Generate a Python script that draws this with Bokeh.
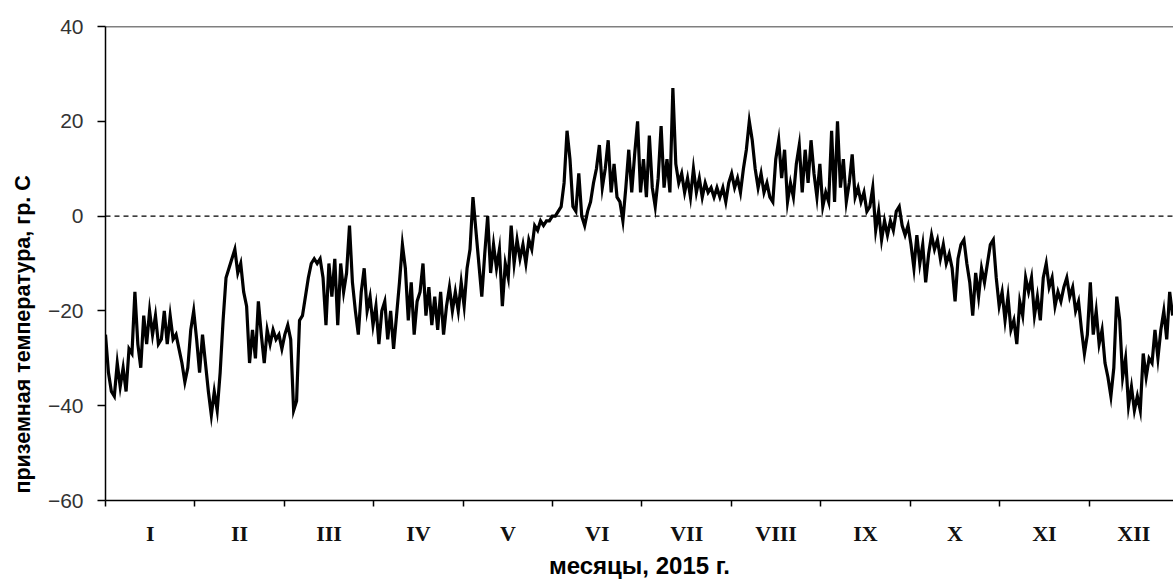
from bokeh.plotting import figure
from bokeh.models import Range1d, FixedTicker, Span, Title
from bokeh.embed import file_html
from bokeh.resources import INLINE

# Daily near-surface temperature, 2015 (day index from 1 Jan)
temps = [
    -25, -33, -37, -38, -31, -36, -32, -37, -28, -29,
    -16, -27, -32, -21, -27, -20, -25, -21, -27, -26,
    -20, -27, -21, -26, -25, -28, -31, -35, -32, -24,
    -20, -26, -33, -25, -31, -37, -42, -37, -41, -33,
    -22, -13, -11, -9, -7, -12, -10, -16, -19, -31,
    -24, -30, -18, -25, -31, -24, -27, -24, -26, -25,
    -28, -25, -23, -26, -41, -39, -22, -21, -17, -13,
    -10, -9, -10, -9, -13, -23, -10, -17, -9, -23,
    -10, -16, -12, -2, -14, -20, -25, -16, -11, -20,
    -17, -23, -19, -27, -20, -18, -26, -20, -28, -21,
    -14, -6, -11, -22, -14, -25, -18, -16, -10, -21,
    -15, -23, -17, -24, -16, -25, -19, -15, -20,
    -16, -20, -14, -19, -11, -7, 4, -3, -10, -17,
    -8, 0, -12, -6, -11, -7, -19, -10, -13, -2,
    -10, -5, -9, -6, -10, -5, -7, -2, -3, -1,
    -2, -1, -1, 0, 0, 1, 2, 7, 18, 12,
    2, 1, 9, 0, -2, 1, 3, 7, 10, 15,
    6, 10, 16, 5, 11, 4, 3, -1, 6, 14,
    5, 13, 20, 5, 12, 4, 17, 6, 2, 8,
    19, 6, 12, 5, 27, 11, 7, 9, 5, 8,
    4, 10, 5, 8, 4, 7, 5, 6, 4, 6,
    4, 6, 3, 7, 9, 6, 8, 5, 10, 14,
    20, 16, 10, 6, 9, 5, 7, 4, 3, 12,
    16, 8, 14, 3, 7, 4, 11, 15,
    5, 14, 7, 16, 9, 4, 11, 2, 5, 3,
    18, 3, 20, 6, 12, 3, 7, 13, 4, 6,
    3, 5, 1, 2, 6, -3, 1, -5, -1, -4,
    -1, -3, 1, 2, -2, -4, -2, -6, -11, -4,
    -10, -6, -14, -8, -4, -7, -5, -9, -6, -10,
    -8, -11, -18, -9, -6, -5, -10, -14, -21, -12,
    -17, -11, -14, -10,
    -6, -5, -13, -19, -16, -22, -17, -24, -22, -27,
    -18, -21, -13, -16, -13, -21, -17, -22, -13, -10,
    -15, -13, -19, -16, -18, -15, -13, -17, -15, -20,
    -18, -24, -29, -25, -14, -25, -20, -27, -24, -31,
    -34, -38, -32, -17, -22, -34, -30, -40, -36, -41,
    -38, -41, -29, -34, -30, -31, -24, -30, -24, -20,
    -26, -16, -21,
]
days = list(range(len(temps)))

month_labels = ["I", "II", "III", "IV", "V", "VI", "VII", "VIII", "IX", "X", "XI", "XII"]
y_ticks = [-60, -40, -20, 0, 20, 40]
x_title = "месяцы, 2015 г."
y_title = "приземная температура, гр. С"

month_len = 365 / 12
month_bounds = [i * month_len for i in range(13)]
month_mids = [(i + 0.5) * month_len for i in range(12)]

p = figure(width=1173, height=582, x_range=Range1d(0, 363.3), y_range=Range1d(-60, 40),
           output_backend="svg", toolbar_location=None,
           min_border_left=105, min_border_right=0, min_border_top=26, min_border_bottom=82)
p.background_fill_color = "white"
p.border_fill_color = "white"
p.outline_line_color = None
p.xgrid.visible = False
p.ygrid.visible = False

p.add_layout(Span(location=0, dimension="width", line_color="black",
                  line_width=1.3, line_dash="5 4"))
p.add_layout(Span(location=40, dimension="width", line_color="black", line_width=1.5))

p.line(days, temps, line_color="black", line_width=3.2, line_join="miter")

# y axis
ya = p.yaxis[0]
ya.ticker = FixedTicker(ticks=y_ticks)
ya.axis_line_color = "black"
ya.axis_line_width = 1.5
ya.major_tick_out = 8
ya.major_tick_in = 0
ya.major_tick_line_width = 1.5
ya.minor_tick_line_color = None
ya.major_label_text_font = "Liberation Sans"
ya.major_label_text_font_size = "21px"
ya.major_label_text_color = "#333333"
ya.major_label_standoff = 14

# x axis: boundary ticks as minor ticks, month names at mid-month
xa = p.xaxis[0]
xa.ticker = FixedTicker(ticks=month_mids, minor_ticks=month_bounds)
xa.major_label_overrides = {m: lab for m, lab in zip(month_mids, month_labels)}
xa.axis_line_color = "black"
xa.axis_line_width = 1.5
xa.major_tick_line_color = None
xa.major_tick_out = 5
xa.major_tick_in = 0
xa.minor_tick_out = 6
xa.minor_tick_in = 0
xa.minor_tick_line_color = "black"
xa.minor_tick_line_width = 1.5
xa.major_label_text_font = "Liberation Serif"
xa.major_label_text_font_style = "bold"
xa.major_label_text_font_size = "22px"
xa.major_label_text_color = "#111111"
xa.major_label_standoff = 14
xa.axis_label = x_title
xa.axis_label_text_font = "Liberation Sans"
xa.axis_label_text_font_style = "bold"
xa.axis_label_text_font_size = "24px"
xa.axis_label_text_color = "black"
xa.axis_label_standoff = 3

# y axis title as a side title, shifted toward the bottom like the reference
p.add_layout(Title(text=y_title, align="left", offset=7, vertical_align="middle",
                   standoff=17, text_font="Liberation Sans", text_font_style="bold",
                   text_font_size="21.5px", text_color="black"), "left")

open("out.html", "w").write(file_html(p, INLINE))
